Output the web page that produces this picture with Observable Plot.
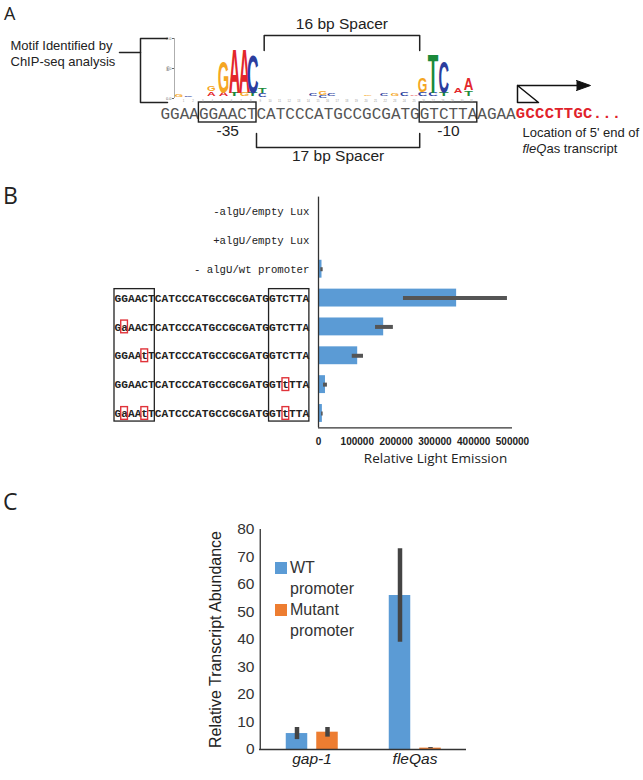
<!DOCTYPE html>
<html><head><meta charset="utf-8">
<script src="https://cdn.jsdelivr.net/npm/d3@7"></script>
<script src="https://cdn.jsdelivr.net/npm/@observablehq/plot@0.6"></script>
<style>
body{margin:0;background:#fff;}
#fig{position:relative;width:643px;height:780px;overflow:hidden;background:#fff;}
#fig svg{position:absolute;left:0;top:0;}
.lab{position:absolute;font-family:"Open Sans",sans-serif;color:#222;line-height:1;}
.leg{position:absolute;font-family:"Liberation Sans",Arial,sans-serif;font-size:16px;color:#333;line-height:1;white-space:nowrap;}
.sw{position:absolute;width:12px;height:12px;}
</style></head><body><div id="fig"></div>
<script>
// ---------------- data ----------------
// Panel A
const promoterSeq = "GGAAGGAACTCATCCCATGCCGCGATGGTCTTAAGAA";
const transcriptSeq = "GCCCTTGC...";
const coreBoxes = [{label:"-35", start:4, end:10}, {label:"-10", start:27, end:33}];
const spacers = [{label:"16 bp Spacer", start:10.8, end:27, side:"top"},
                 {label:"17 bp Spacer", start:10, end:27, side:"bottom"}];
const motifLabel = ["Motif Identified by", "ChIP-seq analysis"];
const tssLabel = ["Location of 5' end of"];
const tssGene = ["fleQ"];
const tssRest = ["as transcript"];
// sequence logo: letter, centre position (sequence character units), stacked bits lo..hi
const logoLetters = [
  {letter:"G",pos:1.9,lo:0.05,hi:0.12,w:0.9},{letter:"C",pos:2.9,lo:0.05,hi:0.11,w:0.9},
  {letter:"A",pos:5.3,lo:0.1,hi:0.24,w:0.9},{letter:"G",pos:5.3,lo:0.26,hi:0.43,w:0.9},
  {letter:"A",pos:6.56,lo:0.07,hi:0.19,w:1},{letter:"G",pos:6.56,lo:0.2,hi:1.27,w:1.2},
  {letter:"T",pos:7.7,lo:0.07,hi:0.19,w:1},{letter:"A",pos:7.7,lo:0.2,hi:1.7,w:1.2},
  {letter:"G",pos:8.75,lo:0.07,hi:0.19,w:1},{letter:"A",pos:8.75,lo:0.2,hi:1.7,w:1.2},
  {letter:"T",pos:9.6,lo:0.07,hi:0.19,w:1},{letter:"C",pos:9.6,lo:0.2,hi:1.5,w:1.2},
  {letter:"C",pos:10.6,lo:0.06,hi:0.17,w:0.9},{letter:"T",pos:10.6,lo:0.18,hi:0.33,w:0.9},
  {letter:"C",pos:15.9,lo:0.08,hi:0.18,w:0.9},{letter:"C",pos:16.9,lo:0.03,hi:0.1,w:0.9},
  {letter:"G",pos:16.9,lo:0.11,hi:0.24,w:0.9},{letter:"C",pos:17.8,lo:0.08,hi:0.17,w:0.9},
  {letter:"G",pos:21.6,lo:0.07,hi:0.13,w:0.9},{letter:"C",pos:23.3,lo:0.08,hi:0.16,w:0.9},
  {letter:"G",pos:24.4,lo:0.08,hi:0.15,w:0.9},{letter:"C",pos:25.4,lo:0.08,hi:0.22,w:0.9},
  {letter:"A",pos:26.4,lo:0.07,hi:0.13,w:0.9},
  {letter:"C",pos:27.3,lo:0.07,hi:0.2,w:1},{letter:"G",pos:27.3,lo:0.22,hi:0.72,w:1},
  {letter:"C",pos:28.4,lo:0.07,hi:0.18,w:1},{letter:"T",pos:28.4,lo:0.2,hi:1.53,w:1.1},
  {letter:"T",pos:29.5,lo:0.07,hi:0.18,w:1},{letter:"C",pos:29.5,lo:0.2,hi:1.27,w:1.1},
  {letter:"A",pos:31.0,lo:0.2,hi:0.37,w:0.9},
  {letter:"T",pos:32.1,lo:0.1,hi:0.25,w:0.9},{letter:"A",pos:32.1,lo:0.27,hi:0.67,w:1}
];
const logoColors = {A:"#e3262b", C:"#2b3d9e", G:"#f5a623", T:"#1a8a3a"};
const logoTicks = [0, 1, 2];

// Panel B
const rowLabels = ["-algU/empty Lux", "+algU/empty Lux", "- algU/wt promoter",
  "GGAACTCATCCCATGCCGCGATGGTCTTA", "GaAACTCATCCCATGCCGCGATGGTCTTA",
  "GGAAtTCATCCCATGCCGCGATGGTCTTA", "GGAACTCATCCCATGCCGCGATGGTtTTA",
  "GaAAtTCATCCCATGCCGCGATGGTtTTA"];
const lightMean = [1000, 300, 9000, 356000, 168000, 101000, 18000, 10000];
const lightLow  = [0, 0, 6000, 219000, 147000, 87000, 13000, 8000];
const lightHigh = [2000, 600, 12000, 487000, 193000, 116000, 23000, 12000];
const lightTicks = [0, 100000, 200000, 300000, 400000, 500000];

// Panel C
const genes = ["gap-1", "fleQas"];
const seriesNames = ["WT promoter", "Mutant promoter"];
const wtMean = [5.8, 56], wtLow = [3.6, 39], wtHigh = [8, 73];
const mutMean = [6.3, 0.5], mutLow = [4.5, 0.3], mutHigh = [8, 0.7];
const abundanceTicks = [0, 10, 20, 30, 40, 50, 60, 70, 80];

// ---------------- layout ----------------
const W = 643, H = 780;
const SANS = "Liberation Sans, Arial, sans-serif";
const MONO = "Liberation Mono, Courier New, monospace";
const OPEN = "Open Sans, sans-serif";
const ST = {background:"transparent", overflow:"visible"};
const fig = document.getElementById("fig");
const px = {x:{domain:[0,W], range:[0,W], axis:null}, y:{domain:[0,H], range:[0,H], axis:null}};
const CH = 9.6, X0 = 160; // sequence char width & start in panel A

// ---- Panel A: annotations ----
const bracketPts = [
  {g:0,x:119,y:52},{g:0,x:140,y:52},
  {g:1,x:167,y:38},{g:1,x:140,y:38},{g:1,x:140,y:102},{g:1,x:167,y:102}];
const tssPts = [{x:586,y:85},{x:517,y:85},{x:517,y:102},{x:538,y:102},{x:517,y:85}];
const headPts = [{x:576,y:80},{x:590,y:85},{x:576,y:90}];
const annot = Plot.plot({width:W, height:H, margin:0, style:ST, ...px,
  marks:[
    Plot.text(motifLabel, {x:10, y:(d,i)=>45+i*16, text:d=>d, textAnchor:"start", fontFamily:SANS, fontSize:13, fill:"#222"}),
    Plot.line(bracketPts, {x:"x", y:"y", z:"g", stroke:"#222", strokeWidth:1.5}),
    Plot.line(tssPts, {x:"x", y:"y", stroke:"#111", strokeWidth:1.5}),
    Plot.line(headPts, {x:"x", y:"y", fill:"#111", stroke:"#111", strokeWidth:1}),
    Plot.text(tssLabel, {x:522, y:132, text:d=>d, textAnchor:"start", fontFamily:SANS, fontSize:13, fill:"#222"}),
    Plot.text(tssGene, {x:522, y:148, text:d=>d, textAnchor:"start", fontFamily:SANS, fontSize:13, fontStyle:"italic", fill:"#222"}),
    Plot.text(tssRest, {x:546, y:148, text:d=>d, textAnchor:"start", fontFamily:SANS, fontSize:13, fill:"#222"})
  ]});
fig.appendChild(annot);

// ---- Panel A: sequence, boxes, spacer brackets ----
const seqChars = promoterSeq.split("").map((c,i)=>({c,i}));
const txChars = transcriptSeq.split("").map((c,i)=>({c,i:promoterSeq.length+i}));
const spacerLines = spacers.flatMap((s,k)=> s.side==="top"
  ? [{k,x:s.start,y:50},{k,x:s.start,y:35},{k,x:s.end,y:35},{k,x:s.end,y:50}]
  : [{k,x:s.start,y:133},{k,x:s.start,y:147},{k,x:s.end,y:147},{k,x:s.end,y:133}]);
const seqPlot = Plot.plot({width:W, height:H, margin:0, style:ST,
  x:{domain:[0,37], range:[X0, X0+37*CH], axis:null}, y:{domain:[0,H], range:[0,H], axis:null},
  marks:[
    Plot.text(seqChars, {x:d=>d.i+0.5, y:113, text:"c", fontFamily:MONO, fontSize:16, fill:"#555"}),
    Plot.text(txChars, {x:d=>d.i+0.5, y:113, text:"c", fontFamily:MONO, fontSize:15.5, fontWeight:"bold", fill:"#e0222a"}),
    Plot.rect(coreBoxes, {x1:"start", x2:"end", y1:102, y2:122, fill:"none", stroke:"#222", strokeWidth:1.4}),
    Plot.text(coreBoxes, {x:d=>(d.start+d.end)/2, y:131, text:"label", fontFamily:SANS, fontSize:15.5, fill:"#222"}),
    Plot.line(spacerLines, {x:"x", y:"y", z:"k", stroke:"#222", strokeWidth:1.5}),
    Plot.text(spacers, {x:d=>(d.start+d.end)/2, y:d=>d.side==="top"?24:156, text:"label", fontFamily:SANS, fontSize:15.5, fill:"#222"})
  ]});
fig.appendChild(seqPlot);

// ---- Panel A: sequence logo ----
const logoX0 = (174 - X0)/CH;
const logoPlot = Plot.plot({width:W, height:H, marginLeft:174, marginRight:0, marginTop:38, marginBottom:H-98,
  style:{...ST, fontSize:"4px", fontFamily:SANS, color:"#666"},
  color:{type:"identity"},
  x:{domain:[logoX0, (W-X0)/CH], axis:null},
  y:{domain:[0,2], ticks:logoTicks, tickSize:2, tickPadding:1, label:null},
  marks:[
    Plot.text(logoLetters, {x:"pos", y:"lo", text:"letter", fill:d=>logoColors[d.letter], fontFamily:SANS, fontWeight:"bold"}),
    Plot.text(d3.range(2, 33), {x:d=>d+0.4, y:0, dy:3, text:d=>String(d-1), fontSize:2.8, fill:"#999"}),
    Plot.ruleX([logoX0], {stroke:"#777", strokeWidth:0.6}),
    Plot.text(["bits"], {frameAnchor:"left", dx:-7, rotate:-90, textAnchor:"middle", fontSize:3.5, fill:"#666"})
  ]});
{
  const xs = logoPlot.scale("x"), ys = logoPlot.scale("y");
  const adv = {A:0.722, C:0.722, G:0.778, T:0.611};
  const g = [...logoPlot.querySelectorAll('g[aria-label="text"]')][0];
  const texts = g ? [...g.querySelectorAll("text")] : [];
  texts.forEach((t, i) => {
    const d = logoLetters[i]; if (!d) return;
    const fs = 100;
    const cx = xs.apply(d.pos), yb = ys.apply(d.lo), yt = ys.apply(d.hi);
    const w = d.w * CH;
    ["x","y","dy"].forEach(a => t.removeAttribute(a));
    t.setAttribute("font-size", fs);
    t.setAttribute("text-anchor", "middle");
    t.setAttribute("transform", `translate(${cx},${yb}) scale(${w/(adv[d.letter]*fs)},${(yb-yt)/(0.716*fs)})`);
  });
}
fig.appendChild(logoPlot);

// ---- Panel B: bars ----
const rows = rowLabels.map((label,i)=>({label, i, mean:lightMean[i], lo:lightLow[i], hi:lightHigh[i]}));
const yTopB = 196.6, yBotB = 427.4;
const barsB = Plot.plot({width:W, height:H, marginLeft:318, marginRight:W-512, marginTop:yTopB, marginBottom:H-yBotB,
  style:{...ST, fontFamily:SANS, fontSize:"10px", fontWeight:"bold", color:"#222"},
  x:{domain:[0,500000], ticks:lightTicks, tickFormat:d=>String(d), tickSize:0, tickPadding:10, label:null},
  y:{domain:[7.5,-0.5], axis:null},
  marks:[
    Plot.rect(rows, {x1:0, x2:"mean", y1:d=>d.i-0.31, y2:d=>d.i+0.31, fill:"#5b9bd5"}),
    Plot.ruleY(rows, {y:"i", x1:"lo", x2:"hi", stroke:"#555", strokeWidth:4}),
    Plot.ruleX([0], {stroke:"#333", strokeWidth:1.3}),
    Plot.ruleY([7.5], {x1:0, x2:500000, stroke:"#333", strokeWidth:1.3}),
    Plot.text(["Relative Light Emission"], {frameAnchor:"bottom", dy:35, dx:20, fontFamily:OPEN, fontSize:13.5, fontWeight:"normal", fill:"#222"})
  ]});
fig.appendChild(barsB);

// ---- Panel B: row labels with core-element boxes and mutations ----
const SW = 6.72;
const bBoxes = coreBoxes.map(b => ({start:b.start-4, end:b.end-4}));
const mutations = rows.filter(r=>r.i>=3).flatMap(r => r.label.split("").map((c,j)=>({c,j,row:r.i})).filter(d=>d.c!==d.c.toUpperCase()));
const labelsB = Plot.plot({width:W, height:H, marginLeft:114, marginRight:W-(114+29*SW), marginTop:yTopB, marginBottom:H-yBotB,
  style:ST,
  x:{domain:[0,29], axis:null}, y:{domain:[7.5,-0.5], axis:null},
  marks:[
    Plot.text(rows.filter(r=>r.i<3), {x:29, y:"i", text:"label", textAnchor:"end", fontFamily:MONO, fontSize:10.7, fill:"#222"}),
    Plot.text(rows.filter(r=>r.i>=3), {x:0, y:"i", text:"label", textAnchor:"start", fontFamily:MONO, fontSize:11.2, fontWeight:"bold", fill:"#222"}),
    Plot.rect(bBoxes, {x1:"start", x2:"end", y1:2.69, y2:7.28, fill:"none", stroke:"#222", strokeWidth:1.3}),
    Plot.rect(mutations, {x1:"j", x2:d=>d.j+1, y1:d=>d.row-0.22, y2:d=>d.row+0.22, fill:"none", stroke:"#e0333a", strokeWidth:1.4})
  ]});
fig.appendChild(labelsB);

// ---- Panel C ----
const wtRows = genes.map((gene,i)=>({gene, series:seriesNames[0], mean:wtMean[i], lo:wtLow[i], hi:wtHigh[i]}));
const mutRows = genes.map((gene,i)=>({gene, series:seriesNames[1], mean:mutMean[i], lo:mutLow[i], hi:mutHigh[i]}));
const bandW = (466-259)/2, barW = 22, inset = (bandW-barW)/2;
const plotC = Plot.plot({width:W, height:H, marginLeft:259, marginRight:W-466, marginTop:529, marginBottom:H-749,
  style:{...ST, fontFamily:SANS, fontSize:"15.5px", color:"#333"},
  x:{domain:genes, padding:0, axis:null},
  y:{domain:[0,80], ticks:abundanceTicks, tickSize:0, tickPadding:5, label:null},
  marks:[
    Plot.barY(wtRows, {x:"gene", y:"mean", fill:"#5b9bd5", insetLeft:inset, insetRight:inset, dx:-15}),
    Plot.barY(mutRows, {x:"gene", y:"mean", fill:"#ed7d31", insetLeft:inset, insetRight:inset, dx:15.5}),
    Plot.ruleX(wtRows, {x:"gene", y1:"lo", y2:"hi", dx:-15, stroke:"#444", strokeWidth:4.5}),
    Plot.ruleX(mutRows, {x:"gene", y1:"lo", y2:"hi", dx:15.5, stroke:"#444", strokeWidth:4.5}),
    Plot.ruleY([0], {stroke:"#333", strokeWidth:1.3}),
    Plot.ruleX([genes[0]], {dx:-bandW/2, stroke:"#333", strokeWidth:1.3}),
    Plot.text(genes, {x:d=>d, frameAnchor:"bottom", dy:14, fontFamily:SANS, fontStyle:"italic", fontSize:15.5, fill:"#222"}),
    Plot.text(["Relative Transcript Abundance"], {frameAnchor:"left", dx:-44, rotate:-90, textAnchor:"middle", fontFamily:SANS, fontSize:16, fill:"#222"})
  ]});
fig.appendChild(plotC);

// legend for panel C
function addLegend() {
  const items = [
    {color:"#5b9bd5", lines:["WT", "promoter"], top:562},
    {color:"#ed7d31", lines:["Mutant", "promoter"], top:604}];
  items.forEach(it => {
    const sw = document.createElement("div"); sw.className = "sw";
    sw.style.left = "275px"; sw.style.top = it.top + "px"; sw.style.background = it.color;
    fig.appendChild(sw);
    it.lines.forEach((t, k) => {
      const d = document.createElement("div"); d.className = "leg";
      d.textContent = t; d.style.left = "290px"; d.style.top = (it.top - 2 + k*21) + "px";
      fig.appendChild(d);
    });
  });
}
addLegend();

// panel letters
[["A",4,4,18],["B",3,184,23],["C",3,490,23]].forEach(([t,l,tp,fs]) => {
  const d = document.createElement("div"); d.className = "lab";
  d.textContent = t; d.style.left = l+"px"; d.style.top = tp+"px"; d.style.fontSize = fs+"px";
  fig.appendChild(d);
});
</script></body></html>
